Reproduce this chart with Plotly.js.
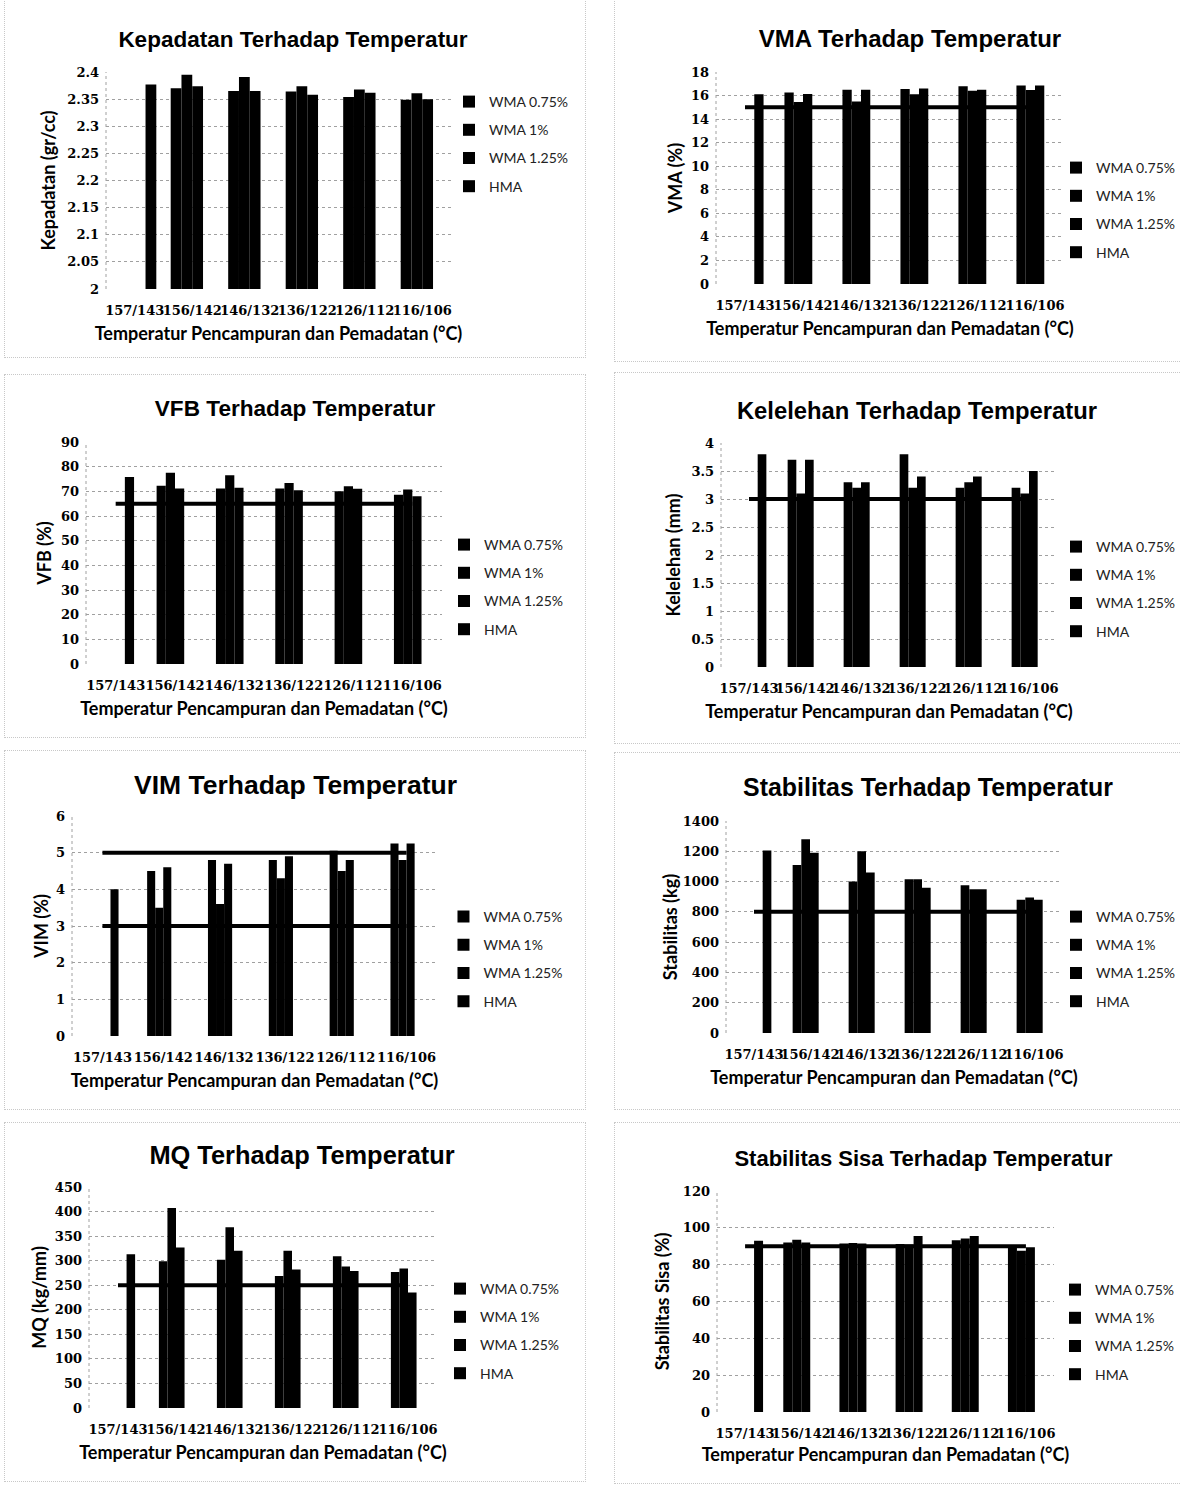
<!DOCTYPE html>
<html>
<head>
<meta charset="utf-8">
<script src="https://cdn.plot.ly/plotly-3.0.1.min.js"></script>
<style>
html,body{margin:0;padding:0;background:#fff;width:1181px;height:1485px;overflow:hidden;}
.chart{position:absolute;left:0;top:0;width:1181px;height:1485px;}
.box{position:absolute;border:1px dotted #c8c8c8;box-sizing:border-box;}
</style>
</head>
<body>
<div class="box" style="left:4px;top:-2px;width:582px;height:360px;"></div>
<div class="box" style="left:614px;top:-2px;width:570px;height:364px;"></div>
<div class="box" style="left:4px;top:374px;width:582px;height:364px;"></div>
<div class="box" style="left:614px;top:372px;width:570px;height:372px;"></div>
<div class="box" style="left:4px;top:750px;width:582px;height:360px;"></div>
<div class="box" style="left:614px;top:752px;width:570px;height:358px;"></div>
<div class="box" style="left:4px;top:1122px;width:582px;height:360px;"></div>
<div class="box" style="left:614px;top:1122px;width:570px;height:362px;"></div>
<div id="c1" class="chart"></div>
<div id="c2" class="chart"></div>
<div id="c3" class="chart"></div>
<div id="c4" class="chart"></div>
<div id="c5" class="chart"></div>
<div id="c6" class="chart"></div>
<div id="c7" class="chart"></div>
<div id="c8" class="chart"></div>
<script>
// ---------- DATA ----------
const categories = ["157/143", "156/142", "146/132", "136/122", "126/112", "116/106"];
const seriesNames = ["WMA 0.75%", "WMA 1%", "WMA 1.25%", "HMA"];
const xAxisTitle = "Temperatur Pencampuran dan Pemadatan (°C)";

// Kepadatan (gr/cc)
const kepadatanWMA075 = [null, 2.370, 2.365, 2.364, 2.354, 2.349];
const kepadatanWMA1   = [null, 2.395, 2.391, 2.374, 2.368, 2.361];
const kepadatanWMA125 = [null, 2.374, 2.365, 2.358, 2.362, 2.350];
const kepadatanHMA    = [2.377, null, null, null, null, null];

// VMA (%)
const vmaWMA075 = [null, 16.25, 16.5, 16.56, 16.79, 16.85];
const vmaWMA1   = [null, 15.46, 15.5, 16.11, 16.4, 16.48];
const vmaWMA125 = [null, 16.14, 16.5, 16.59, 16.5, 16.85];
const vmaHMA    = [16.11, null, null, null, null, null];
const vmaSpec   = [15, 15, 15, 15, 15, 15];

// VFB (%)
const vfbWMA075 = [null, 72.3, 71.1, 71.1, 70.0, 68.6];
const vfbWMA1   = [null, 77.5, 76.5, 73.4, 72.1, 70.7];
const vfbWMA125 = [null, 71.1, 71.5, 70.4, 71.0, 68.0];
const vfbHMA    = [75.8, null, null, null, null, null];
const vfbSpec   = [65, 65, 65, 65, 65, 65];

// Kelelehan (mm)
const kelelehanWMA075 = [null, 3.7, 3.3, 3.8, 3.2, 3.2];
const kelelehanWMA1   = [null, 3.1, 3.2, 3.2, 3.3, 3.1];
const kelelehanWMA125 = [null, 3.7, 3.3, 3.4, 3.4, 3.5];
const kelelehanHMA    = [3.8, null, null, null, null, null];
const kelelehanSpec   = [3, 3, 3, 3, 3, 3];

// VIM (%)
const vimWMA075 = [null, 4.5, 4.8, 4.8, 5.05, 5.25];
const vimWMA1   = [null, 3.5, 3.6, 4.3, 4.5, 4.8];
const vimWMA125 = [null, 4.6, 4.7, 4.9, 4.8, 5.25];
const vimHMA    = [4.0, null, null, null, null, null];
const vimSpecMax = [5, 5, 5, 5, 5, 5];
const vimSpecMin = [3, 3, 3, 3, 3, 3];

// Stabilitas (kg)
const stabilitasWMA075 = [null, 1110, 1000, 1015, 975, 880];
const stabilitasWMA1   = [null, 1280, 1200, 1015, 950, 895];
const stabilitasWMA125 = [null, 1190, 1060, 960, 950, 880];
const stabilitasHMA    = [1205, null, null, null, null, null];
const stabilitasSpec   = [800, 800, 800, 800, 800, 800];

// MQ (kg/mm)
const mqWMA075 = [null, 299, 302, 269, 309, 277];
const mqWMA1   = [null, 407, 368, 320, 288, 284];
const mqWMA125 = [null, 327, 320, 282, 279, 235];
const mqHMA    = [313, null, null, null, null, null];
const mqSpec   = [250, 250, 250, 250, 250, 250];

// Stabilitas Sisa (%)
const sisaWMA075 = [null, 92.0, 91.5, 91.2, 93.3, 89.5];
const sisaWMA1   = [null, 93.5, 91.8, 91.0, 94.2, 87.5];
const sisaWMA125 = [null, 92.0, 91.5, 95.5, 95.5, 89.5];
const sisaHMA    = [93.0, null, null, null, null, null];
const sisaSpec   = [90, 90, 90, 90, 90, 90];

// ---------- RENDERING ----------
const W = 1181, H = 1485;

function drawChart(id, cfg) {
  const series = [cfg.s1, cfg.s2, cfg.s3, cfg.s4];
  const traces = series.map((vals, i) => ({
    type: 'bar', x: categories, y: vals, name: seriesNames[i],
    legendgroup: 'g' + i,
    marker: {color: '#000000', line: {width: 0}}
  }));
  (cfg.specs || []).forEach(sp => traces.push({
    type: 'scatter', mode: 'lines', x: categories, y: sp,
    line: {color: '#000000', width: 4}, showlegend: false
  }));
  const g = cfg.geom;
  const layout = {
    width: W, height: H,
    margin: {l: Math.round(g.x0), r: Math.round(W - g.x1), t: Math.round(g.y0), b: Math.round(H - g.y1), pad: 0, autoexpand: false},
    paper_bgcolor: 'rgba(0,0,0,0)', plot_bgcolor: 'rgba(0,0,0,0)',
    barmode: 'group', bargap: g.gap, bargroupgap: 0,
    showlegend: true,
    title: {
      text: cfg.title,
      x: g.tx / W, y: 1 - g.ty / H, xanchor: 'center', yanchor: 'middle',
      font: {family: 'Liberation Sans, Arial, sans-serif', size: g.ts, color: '#000', weight: 700}
    },
    xaxis: {
      type: 'category', tickangle: 0, showgrid: false, zeroline: false, showline: false,
      ticks: '', automargin: false, ticklabelstandoff: 12,
      tickfont: {family: 'DejaVu Serif, serif', size: 13, color: '#000', weight: 700},
      title: {text: xAxisTitle, standoff: g.xs,
        font: {family: 'Lato, sans-serif', size: 18, color: '#000', weight: 700}}
    },
    yaxis: {
      range: cfg.range, dtick: cfg.dtick, tick0: cfg.range[0], autorange: false,
      showgrid: true, gridcolor: '#a0a0a0', griddash: 'dot', gridwidth: 1,
      zeroline: false, showline: false, ticks: '', automargin: false, ticklabelstandoff: 6,
      tickfont: {family: 'DejaVu Serif, serif', size: 13, color: '#000', weight: 700},
      title: {text: cfg.ytitle, standoff: g.ys,
        font: {family: 'Lato, sans-serif', size: 18, color: '#000', weight: 700}}
    },
    legend: {
      x: (g.lx - 40 - g.x0) / (g.x1 - g.x0),
      y: (g.y1 - (g.ly - 14)) / (g.y1 - g.y0),
      xanchor: 'left', yanchor: 'top',
      font: {family: 'Lato, sans-serif', size: 14, color: '#222'},
      bgcolor: 'rgba(0,0,0,0)', borderwidth: 0, tracegroupgap: 7, traceorder: 'grouped'
    },
    shapes: [
      {type: 'line', xref: 'paper', yref: 'paper', x0: 0, x1: 0, y0: 0, y1: 1,
       line: {color: '#a0a0a0', width: 1, dash: 'dot'}}
    ]
  };
  return Plotly.newPlot(id, traces, layout, {staticPlot: true, displayModeBar: false});
}

drawChart('c1', {
  title: 'Kepadatan Terhadap Temperatur', ytitle: 'Kepadatan (gr/cc)',
  s1: kepadatanWMA075, s2: kepadatanWMA1, s3: kepadatanWMA125, s4: kepadatanHMA,
  range: [2, 2.4001], dtick: 0.05,
  geom: {x0: 105.75, x1: 451, y0: 72, y1: 289, gap: 0.25, tx: 293, ty: 39, ts: 22.5, lx: 489, ly: 100, xs: 10, ys: 7}
});
drawChart('c2', {
  title: 'VMA Terhadap Temperatur', ytitle: 'VMA (%)',
  s1: vmaWMA075, s2: vmaWMA1, s3: vmaWMA125, s4: vmaHMA, specs: [vmaSpec],
  range: [0, 18], dtick: 2,
  geom: {x0: 716, x1: 1064, y0: 72, y1: 284, gap: 0.36, tx: 910, ty: 39, ts: 24, lx: 1096, ly: 166, xs: 10, ys: 3}
});
drawChart('c3', {
  title: 'VFB Terhadap Temperatur', ytitle: 'VFB (%)',
  s1: vfbWMA075, s2: vfbWMA1, s3: vfbWMA125, s4: vfbHMA, specs: [vfbSpec],
  range: [0, 90], dtick: 10,
  geom: {x0: 86, x1: 442, y0: 442, y1: 664, gap: 0.38, tx: 295, ty: 408, ts: 22.6, lx: 484, ly: 543, xs: 10, ys: 4}
});
drawChart('c4', {
  title: 'Kelelehan Terhadap Temperatur', ytitle: 'Kelelehan (mm)',
  s1: kelelehanWMA075, s2: kelelehanWMA1, s3: kelelehanWMA125, s4: kelelehanHMA, specs: [kelelehanSpec],
  range: [0, 4], dtick: 0.5,
  geom: {x0: 721, x1: 1057, y0: 443, y1: 667, gap: 0.38, tx: 917, ty: 411, ts: 23.8, lx: 1096, ly: 545, xs: 10, ys: 6}
});
drawChart('c5', {
  title: 'VIM Terhadap Temperatur', ytitle: 'VIM (%)',
  s1: vimWMA075, s2: vimWMA1, s3: vimWMA125, s4: vimHMA, specs: [vimSpecMax, vimSpecMin],
  range: [0, 6], dtick: 1,
  geom: {x0: 71.5, x1: 437.5, y0: 816, y1: 1036, gap: 0.47, tx: 295.5, ty: 785, ts: 26.5, lx: 484, ly: 915, xs: 10, ys: 2}
});
drawChart('c6', {
  title: 'Stabilitas Terhadap Temperatur', ytitle: 'Stabilitas (kg)',
  s1: stabilitasWMA075, s2: stabilitasWMA1, s3: stabilitasWMA125, s4: stabilitasHMA, specs: [stabilitasSpec],
  range: [0, 1400], dtick: 200,
  geom: {x0: 726, x1: 1062, y0: 821, y1: 1033, gap: 0.38, tx: 928, ty: 787, ts: 24.9, lx: 1096, ly: 915, xs: 10, ys: 0}
});
drawChart('c7', {
  title: 'MQ Terhadap Temperatur', ytitle: 'MQ (kg/mm)',
  s1: mqWMA075, s2: mqWMA1, s3: mqWMA125, s4: mqHMA, specs: [mqSpec],
  range: [0, 450], dtick: 50,
  geom: {x0: 89, x1: 437, y0: 1187, y1: 1408, gap: 0.41, tx: 302, ty: 1155, ts: 25.4, lx: 480, ly: 1287, xs: 10, ys: 3}
});
drawChart('c8', {
  title: 'Stabilitas Sisa Terhadap Temperatur', ytitle: 'Stabilitas Sisa (%)',
  s1: sisaWMA075, s2: sisaWMA1, s3: sisaWMA125, s4: sisaHMA, specs: [sisaSpec],
  range: [0, 120], dtick: 20,
  geom: {x0: 716.6, x1: 1054, y0: 1191, y1: 1412, gap: 0.36, tx: 923.5, ty: 1158, ts: 22, lx: 1095, ly: 1288, xs: 8, ys: 8}
});
</script>
</body>
</html>
